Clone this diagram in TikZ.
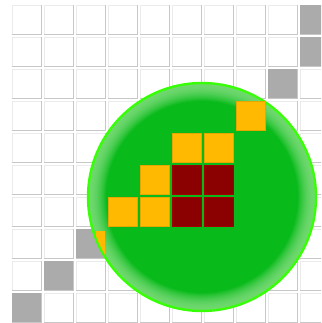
\documentclass[tikz,border=0pt]{standalone}
\usepackage{xcolor}
\usepackage{tikz}
\usetikzlibrary{positioning}
\definecolor{lensgreen}{RGB}{8,186,26}
\definecolor{lenslight}{RGB}{112,216,112}
\definecolor{lensrim}{RGB}{55,255,5}
\definecolor{cellorange}{RGB}{255,185,0}
\definecolor{celldark}{RGB}{139,0,0}
\definecolor{cellgray}{RGB}{171,171,171}

\begin{document}
\begin{tikzpicture}[
    x=1pt, y=-1pt,
    cell/.style={minimum size=29pt, inner sep=0pt, outer sep=0pt, fill=white},
    edgelight/.style={draw=black!8, line width=0.8pt},
    edgedark/.style={draw=black!22, line width=0.8pt},
    hot/.style={cell, fill=cellorange, draw=cellorange!90!black, line width=0.5pt},
    core/.style={cell, fill=celldark, draw=celldark!80!red, line width=0.5pt},
    lens/.style={circle, minimum size=228pt, inner sep=0pt, draw=lensrim, line width=2.4pt}
]
\path[use as bounding box, fill=white] (0,0) rectangle (321,323);
\clip (0,0) rectangle (321,323);
% background grid
\foreach \i in {0,...,9}
  \foreach \j in {0,...,9} {
    \node[cell] (c-\i-\j) at ({26.5+32*\i},{19.5+32*\j}) {};
    \draw[edgelight] (c-\i-\j.south west) -- (c-\i-\j.north west) -- (c-\i-\j.north east);
    \draw[edgedark] (c-\i-\j.north east) -- (c-\i-\j.south east) -- (c-\i-\j.south west);
  }
\foreach \i/\j in {9/0,9/1,8/2,2/7,1/8,0/9}
  \node[cell, fill=cellgray] (g-\i-\j) at ({26.5+32*\i},{19.5+32*\j}) {};
% the lens, lighter towards its rim
\coordinate (lc) at (202,197);
\foreach \k in {0,...,22} {
  \pgfmathsetmacro{\pc}{min(100,\k*\k*0.22)}
  \fill[lensgreen!\pc!lenslight] (lc) circle [radius={114-\k*0.85}];
}
\node[lens] (lens) at (lc) {};
\begin{scope}
  \clip (lc) circle [radius=113];
  \fill[cellorange] (96,231) rectangle (105,260);
\end{scope}
\foreach \i/\j in {7/3,5/4,6/4,4/5,3/6,4/6}
  \node[hot] (h-\i-\j) at ({26.5+32*\i},{19.5+32*\j}) {};
\foreach \i/\j in {5/5,6/5,5/6,6/6}
  \node[core] (r-\i-\j) at ({26.5+32*\i},{19.5+32*\j}) {};
\end{tikzpicture}
\end{document}
